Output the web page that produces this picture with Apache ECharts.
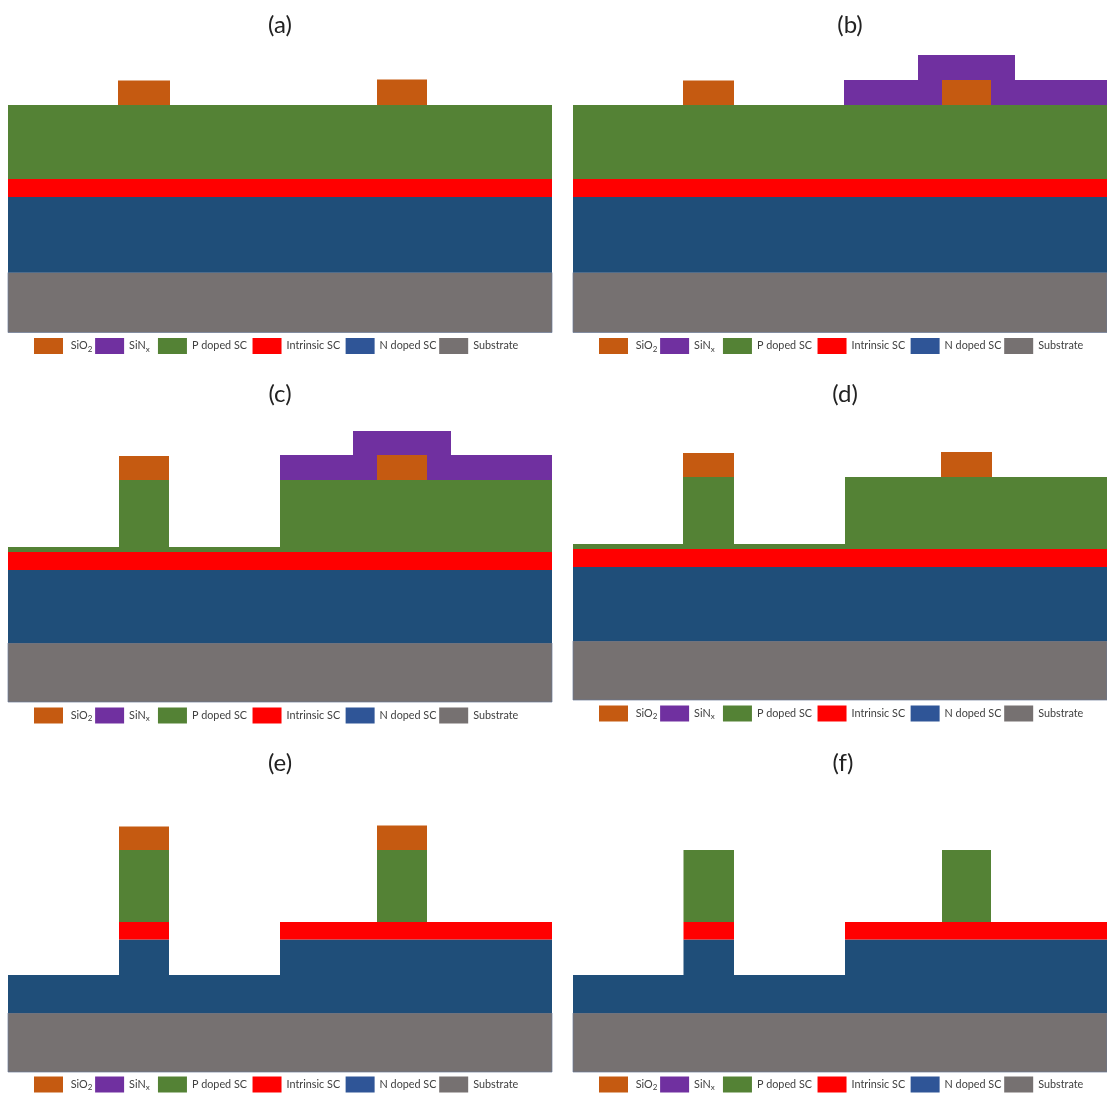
<!DOCTYPE html>
<html><head><meta charset="utf-8">
<style>html,body{margin:0;padding:0;background:#fff}#c{width:1107px;height:1093px}</style>
<script src="https://cdn.jsdelivr.net/npm/echarts@6/dist/echarts.min.js"></script>
</head><body><div id="c"></div>
<script>
const layerNames = ['SiO2','SiNx','P doped SC','Intrinsic SC','N doped SC','Substrate'];
const drawOrder = ['Substrate','N doped SC','Intrinsic SC','P doped SC','SiNx','SiO2'];
const panelLabels = ['(a)','(b)','(c)','(d)','(e)','(f)'];
// rows: layer, x from, x to, height from, height to
const panelA = [['Substrate',0,544,0,60],['N doped SC',0,544,60,135.5],['Intrinsic SC',0,544,135.5,153.5],['P doped SC',0,544,153.5,227.5],['SiO2',110,162,227.5,252],['SiO2',369,419,227.5,253]];
const panelB = [['Substrate',0,534,0,60],['N doped SC',0,534,60,135.5],['Intrinsic SC',0,534,135.5,153.5],['P doped SC',0,534,153.5,227.5],['SiO2',110,161,227.5,252],['SiNx',271,534,227.5,252.5],['SiNx',345,442,252.5,277.5],['SiO2',369,418,227.5,252.5]];
const panelC = [['Substrate',0,544,0,59],['N doped SC',0,544,59,132],['Intrinsic SC',0,544,132,150],['P doped SC',0,544,150,155],['P doped SC',111,161,155,222],['P doped SC',272,544,155,222],['SiO2',111,161,222,246],['SiNx',272,544,222,247],['SiNx',345,443,247,271],['SiO2',369,419,222,247]];
const panelD = [['Substrate',0,534,0,59],['N doped SC',0,534,59,133],['Intrinsic SC',0,534,133,151],['P doped SC',0,534,151,156],['P doped SC',110,161,156,223],['P doped SC',272,534,156,223],['SiO2',110,161,223,247],['SiO2',368,419,223,248]];
const panelE = [['Substrate',0,544,0,59],['N doped SC',0,544,59,97],['N doped SC',111,161,97,132.5],['N doped SC',272,544,97,132.5],['Intrinsic SC',111,161,132.5,150],['Intrinsic SC',272,544,132.5,150],['P doped SC',111,161,150,222],['P doped SC',369,419,150,222],['SiO2',111,161,222,245.5],['SiO2',369,419,222,246.5]];
const panelF = [['Substrate',0,534,0,59],['N doped SC',0,534,59,97],['N doped SC',110.5,161,97,132.5],['N doped SC',272,534,97,132.5],['Intrinsic SC',110.5,161,132.5,150],['Intrinsic SC',272,534,132.5,150],['P doped SC',110.5,161,150,222],['P doped SC',369,418,150,222]];
const panels = [panelA,panelB,panelC,panelD,panelE,panelF];
const gridLefts = [8,573,8,573,8,573];
const gridWidths = [544,534,544,534,544,534];
const gridBottoms = [332.5,332.5,702,700,1072,1072];
const titleCenters = [280,850,280,845,280,843];
const titleTops = [13,13,382,382,751,751];
const legendLefts = [34,599,34,599,34,599];
const legendTops = [338,338,707.5,705.5,1076.5,1076.5];
const fillColors = {'SiO2':'#C55A11','SiNx':'#7030A0','P doped SC':'#548235','Intrinsic SC':'#FF0000','N doped SC':'#1F4E79','Substrate':'#767171'};
const legendColors = {'SiO2':'#C55A11','SiNx':'#7030A0','P doped SC':'#548235','Intrinsic SC':'#FF0000','N doped SC':'#2F5597','Substrate':'#767171'};
const FONT = 'Lato';
const LS = 10.8, LC = '#404040';
const NB = '\u00A0';
const chart = echarts.init(document.getElementById('c'),null,{renderer:'canvas'});
const grid=[],xAxis=[],yAxis=[],title=[],legend=[],series=[];
const base = {fontFamily:FONT,fontSize:LS,color:LC};
const legendRich = {
  t:{...base},
  s:{...base,fontSize:8,verticalAlign:'bottom',padding:[6,0,0,0]}
};
const legendText = {
  'SiO2':'{t|'+NB+'SiO}{s|2}{t|'+NB+'}',
  'SiNx':'{t|SiN}{s|x}{t|'+NB+NB+NB+'}',
  'P doped SC':'{t|P doped SC'+NB+NB+'}',
  'Intrinsic SC':'{t|Intrinsic SC'+NB+NB+'}',
  'N doped SC':'{t|N doped SC'+NB+'}',
  'Substrate':'{t|Substrate}'
};
panels.forEach((rows,p)=>{
  grid.push({left:gridLefts[p],top:gridBottoms[p]-300,width:gridWidths[p],height:300,containLabel:false});
  xAxis.push({gridIndex:p,type:'value',min:0,max:gridWidths[p],show:false});
  yAxis.push({gridIndex:p,type:'value',min:0,max:300,show:false});
  title.push({text:panelLabels[p],left:titleCenters[p],top:titleTops[p],padding:0,textAlign:'center',textStyle:{fontFamily:FONT,fontSize:24,fontWeight:'normal',color:'#222'}});
  legend.push({
    left:legendLefts[p],top:legendTops[p],padding:0,orient:'horizontal',itemWidth:29,itemHeight:16,itemGap:0,
    icon:'rect',selectedMode:false,
    data:layerNames.map(n=>({name:n,itemStyle:{color:legendColors[n],borderWidth:0}})),
    formatter:n=>legendText[n],
    textStyle:{...base,rich:legendRich}
  });
  drawOrder.forEach(layer=>{
    series.push({
      name:layer,type:'custom',coordinateSystem:'cartesian2d',xAxisIndex:p,yAxisIndex:p,
      itemStyle:{color:legendColors[layer]},
      encode:{x:[0,1],y:[2,3]},
      data:rows.filter(r=>r[0]===layer).map(r=>r.slice(1)),
      animation:false,
      renderItem:(params,api)=>{
        const a=api.coord([api.value(0),api.value(3)]);
        const b=api.coord([api.value(1),api.value(2)]);
        const edge=layer==='Substrate'?{stroke:'#6a7a96',lineWidth:0.7}:{};
        return {type:'rect',shape:{x:a[0],y:a[1],width:b[0]-a[0],height:b[1]-a[1]},style:Object.assign({fill:fillColors[layer]},edge)};
      }
    });
  });
});
chart.setOption({animation:false,backgroundColor:'#fff',grid,xAxis,yAxis,title,legend,series,tooltip:{show:false}});
</script></body></html>
